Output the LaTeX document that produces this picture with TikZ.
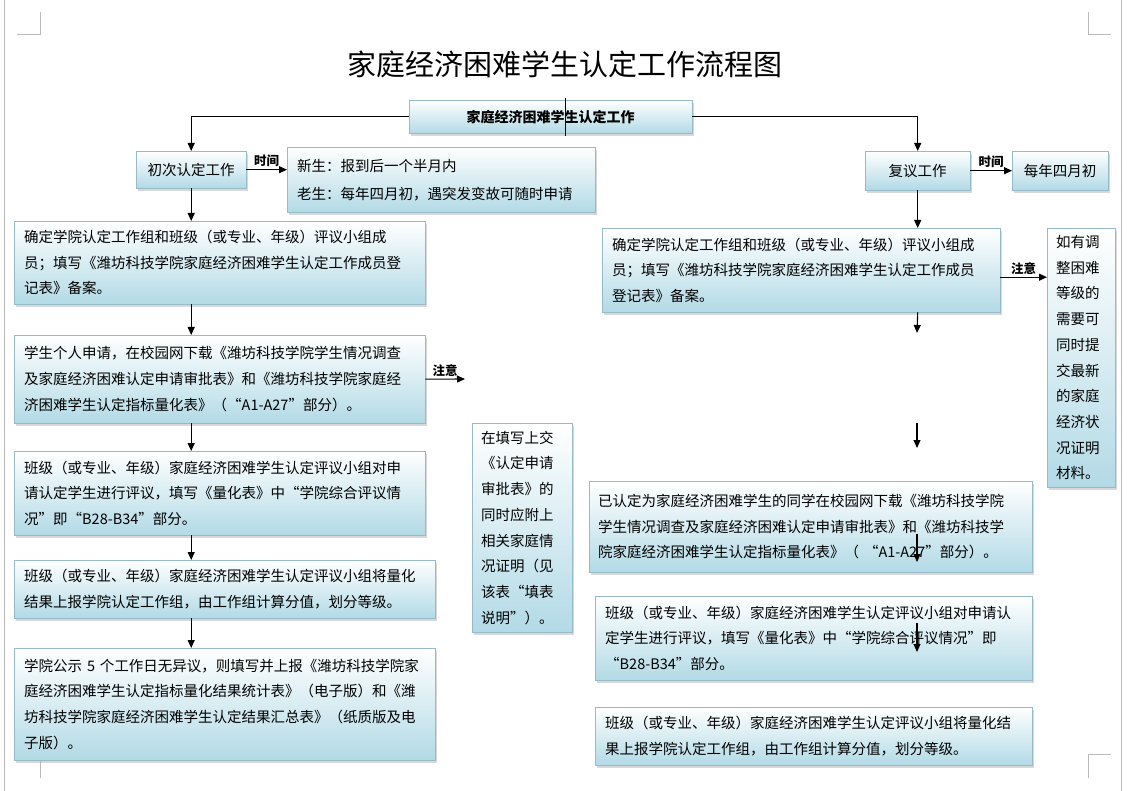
\documentclass[tikz,border=0pt]{standalone}
\usepackage{fontspec}
\setmainfont{Noto Sans CJK SC}
\usetikzlibrary{arrows.meta, positioning, shadows}
\definecolor{boxblue}{RGB}{178,218,230}
\definecolor{boxedge}{RGB}{150,186,200}
\definecolor{pagegray}{RGB}{185,185,185}

\begin{document}
\begin{tikzpicture}[x=1pt, y=-1pt,
box/.style = {draw=boxedge, top color=white, bottom color=boxblue,
              drop shadow={shadow xshift=2pt, shadow yshift=-2.5pt, fill=black!30},
              anchor=north west, inner xsep=10pt, inner ysep=0pt,
              font=\fontsize{14.5}{25.7}\selectfont, align=left},
cbox/.style = {box, align=center},
lbl/.style = {font=\bfseries\fontsize{12.5}{13}\selectfont, inner sep=2pt},
arr/.style = {line width=1.1pt, -{Triangle[length=8pt,width=7pt]}},
cornermark/.style = {draw=pagegray, line width=1pt},
                    ]
%---
\useasboundingbox (0,0) rectangle (1127,791);
\fill[white] (0,0) rectangle (1127,791);

% page edges and corner marks
\draw[pagegray] (4,0) -- (4,791);
\draw[pagegray] (1121,0) -- (1121,791);
\draw[cornermark] (17,35) -- (40,35) -- (40,12);
\draw[cornermark] (1111,35) -- (1088,35) -- (1088,12);
\draw[cornermark] (40,757) -- (40,778);
\draw[cornermark] (1111,754) -- (1088,754) -- (1088,778);

\node (title) [font=\fontsize{29}{32}\selectfont] at (565,64) {家庭经济困难学生认定工作流程图};

\node (top) [cbox, text width=263pt, minimum height=33pt,
             font=\bfseries\fontsize{14}{16}\selectfont] at (409,100) {家庭经济困难学生认定工作};

% first-time column
\node (first) [cbox, text width=90pt, minimum height=37pt] at (136,151) {初次认定工作};
\node (fresh) [box, text width=288pt, minimum height=65pt,
               font=\fontsize{14.5}{28}\selectfont] at (287,147)
      {新生：报到后一个半月内\\老生：每年四月初，遇突发变故可随时申请};

\node (L1) [box, text width=391pt, minimum height=83pt] at (14,221)
      {确定学院认定工作组和班级（或专业、年级）评议小组成\\
       员；填写《潍坊科技学院家庭经济困难学生认定工作成员登\\
       记表》备案。};
\node (L2) [box, text width=391pt, minimum height=88pt] at (14,335)
      {学生个人申请，在校园网下载《潍坊科技学院学生情况调查\\
       及家庭经济困难认定申请审批表》和《潍坊科技学院家庭经\\
       济困难学生认定指标量化表》（“A1-A27”部分）。};
\node (L3) [box, text width=391pt, minimum height=84pt] at (14,451)
      {班级（或专业、年级）家庭经济困难学生认定评议小组对申\\
       请认定学生进行评议，填写《量化表》中“学院综合评议情\\
       况”即“B28-B34”部分。};
\node (L4) [box, text width=401pt, minimum height=58pt] at (14,560)
      {班级（或专业、年级）家庭经济困难学生认定评议小组将量化\\
       结果上报学院认定工作组，由工作组计算分值，划分等级。};
\node (L5) [box, text width=401pt, minimum height=112pt] at (14,648)
      {学院公示 5 个工作日无异议，则填写并上报《潍坊科技学院家\\
       庭经济困难学生认定指标量化结果统计表》（电子版）和《潍\\
       坊科技学院家庭经济困难学生认定结果汇总表》（纸质版及电\\
       子版）。};

\node (attach) [box, inner xsep=9pt, text width=82pt, minimum height=209pt] at (472,423)
      {在填写上交\\《认定申请\\审批表》的\\同时应附上\\相关家庭情\\况证明（见\\该表“填表\\说明”）。};

% review column
\node (review) [cbox, text width=85pt, minimum height=39pt] at (865,151) {复议工作};
\node (april) [cbox, text width=76pt, minimum height=39pt] at (1012,151) {每年四月初};

\node (R1) [box, text width=378pt, minimum height=84pt] at (602,228)
      {确定学院认定工作组和班级（或专业、年级）评议小组成\\
       员；填写《潍坊科技学院家庭经济困难学生认定工作成员\\
       登记表》备案。};
\node (adjust) [box, inner xsep=9pt, text width=50pt, minimum height=259pt] at (1047,228)
      {如有调\\整困难\\等级的\\需要可\\同时提\\交最新\\的家庭\\经济状\\况证明\\材料。};
\node (R2) [box, inner xsep=9pt, text width=425pt, minimum height=91pt] at (589,481)
      {已认定为家庭经济困难学生的同学在校园网下载《潍坊科技学院\\
       学生情况调查及家庭经济困难认定申请审批表》和《潍坊科技学\\
       院家庭经济困难学生认定指标量化表》（ “A1-A27”部分）。};
\node (R3) [box, text width=417pt, minimum height=84pt] at (595,596)
      {班级（或专业、年级）家庭经济困难学生认定评议小组对申请认\\
       定学生进行评议，填写《量化表》中“学院综合评议情况”即\\
       “B28-B34”部分。};
\node (R4) [box, text width=417pt, minimum height=58pt] at (595,707)
      {班级（或专业、年级）家庭经济困难学生认定评议小组将量化结\\
       果上报学院认定工作组，由工作组计算分值，划分等级。};

% loose arrow ends
\coordinate (note_l) at (465,379);
\coordinate (r_a) at (917,333);
\coordinate (r_b) at (917,423);
\coordinate (r_c) at (917,448);
\coordinate (r_d) at (917,534);
\coordinate (r_e) at (917,562);
\coordinate (r_f) at (917,623);
\coordinate (r_g) at (917,652);

\draw[line width=1pt] ([xshift=14.5pt,yshift=2pt]top.north) -- ([xshift=14.5pt,yshift=-3pt]top.south);
\draw[arr] (top.west) -| (first.north);
\draw[arr] (top.east) -| (review.north);

\path[arr]
        (first.east) edge node[lbl, above] {时间} (first.east -| fresh.west)
        (review.east) edge node[lbl, above] {时间} (april.west)
        (L2.east) edge node[lbl, above] {注意} (note_l)
        ([yshift=-7pt]R1.east) edge node[lbl, above] {注意} ([yshift=-7pt]R1.east -| adjust.west)

        (first.south) edge (first.south |- L1.north)
        (L1.south -| first) edge (L2.north -| first)
        (L2.south -| first) edge (L3.north -| first)
        (L3.south -| first) edge (L4.north -| first)
        (L4.south -| first) edge (L5.north -| first)

        (review.south) edge (review.south |- R1.north)
        (R1.south -| review) edge (r_a)
        (r_b) edge (r_c)
        (r_d) edge (r_e)
        (r_f) edge (r_g);

\end{tikzpicture}
\end{document}
